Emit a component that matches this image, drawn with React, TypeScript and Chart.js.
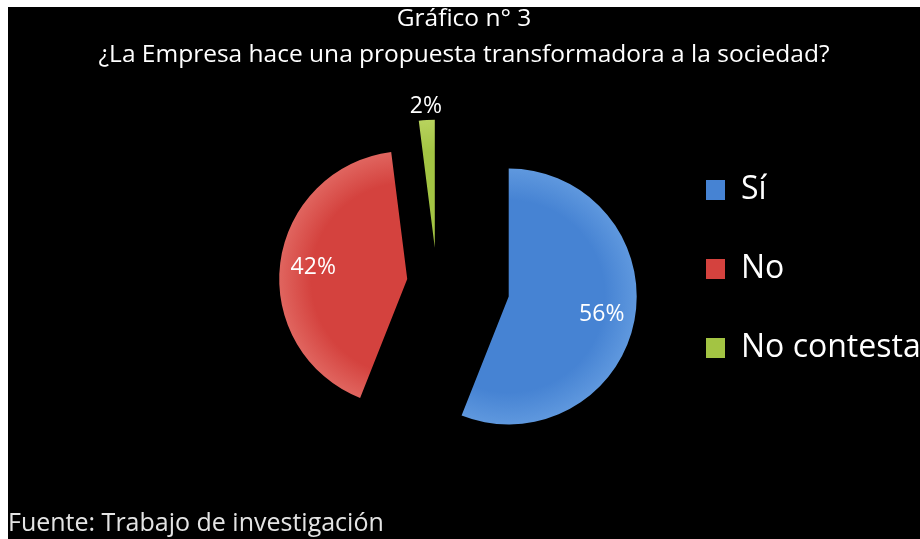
import React, { useEffect, useRef } from 'react';
import { Chart, registerables, layouts } from 'chart.js';

Chart.register(...registerables);

// ---- data ----
const CATEGORIES = ['Sí', 'No', 'No contesta'];
const VALUES = [56, 42, 2];
const COLORS = ['#4683D3', '#D4423E', '#A3C443'];
const RIM_COLORS = ['#5F98DE', '#E0655F', '#B8D35E'];
// Chart.js arc offset (the drawn shift is offset / 4)
const OFFSETS = [292, 120, 140];
const TITLE_LINES = ['Gráfico n° 3', '¿La Empresa hace una propuesta transformadora a la sociedad?'];
const SOURCE = 'Fuente: Trabajo de investigación';

// ---- layout / style ----
const W = 912;
const H = 532;
const PIE_RADIUS = 128;
const LEFT_SPACER = 207;
const FONT = "'Open Sans', sans-serif";

const leftSpacer = {
  id: 'leftSpacer',
  beforeInit(chart: any) {
    const box: any = {
      position: 'left',
      weight: 0,
      fullSize: false,
      options: {},
      width: 0, height: 0, left: 0, top: 0, right: 0, bottom: 0,
      isHorizontal() { return false; },
      update(_maxWidth: number, maxHeight: number) {
        this.width = LEFT_SPACER;
        this.height = maxHeight;
      },
      draw() {},
    };
    layouts.addBox(chart, box);
  },
};

// Chart.js grows the radius and narrows the angle of offset arcs;
// undo that so every exploded slice keeps the same radius and its true angle.
const explodeFix = {
  id: 'explodeFix',
  afterDatasetUpdate(_chart: any, args: any) {
    args.meta.data.forEach((arc: any, i: number) => {
      const shift = ((arc.options && arc.options.offset) ?? OFFSETS[i]) / 4;
      const fix = 1 - Math.sin(Math.min(Math.PI, arc.circumference || 0));
      const o = shift * fix;
      arc.outerRadius = PIE_RADIUS - o;
      const widen = o / (2 * Math.PI * PIE_RADIUS);
      arc.startAngle -= widen;
      arc.endAngle += widen;
    });
  },
};

const sliceLabels = {
  id: 'sliceLabels',
  afterDatasetsDraw(chart: any) {
    const ctx = chart.ctx;
    const meta = chart.getDatasetMeta(0);
    const total = VALUES.reduce((a, b) => a + b, 0);
    ctx.save();
    ctx.font = `23px ${FONT}`;
    ctx.fillStyle = '#ffffff';
    ctx.textAlign = 'center';
    ctx.textBaseline = 'middle';
    meta.data.forEach((arc: any, i: number) => {
      const mid = (arc.startAngle + arc.endAngle) / 2;
      const shift = ((arc.options && arc.options.offset) ?? OFFSETS[i]) / 4;
      const ax = arc.x + Math.cos(mid) * shift;
      const ay = arc.y + Math.sin(mid) * shift;
      const share = VALUES[i] / total;
      const r = share < 0.05 ? PIE_RADIUS + 14 : PIE_RADIUS * 0.74;
      ctx.fillText(Math.round(share * 100) + '%', ax + Math.cos(mid) * r, ay + Math.sin(mid) * r);
    });
    ctx.restore();
  },
};

// soft bevel: slightly lighter towards the outer edge of each slice
function sliceFill(c: any) {
  const i = c.dataIndex ?? 0;
  const chart = c.chart;
  const area = chart && chart.chartArea;
  if (!area) return COLORS[i];
  const cx = (area.left + area.right) / 2;
  const cy = (area.top + area.bottom) / 2;
  const g = chart.ctx.createRadialGradient(cx, cy, 0, cx, cy, PIE_RADIUS);
  g.addColorStop(0, COLORS[i]);
  g.addColorStop(0.75, COLORS[i]);
  g.addColorStop(1, RIM_COLORS[i]);
  return g;
}

export default function App() {
  const canvasRef = useRef<HTMLCanvasElement | null>(null);

  useEffect(() => {
    const canvas = canvasRef.current;
    if (!canvas) return;
    const defaultLabels = (Chart as any).overrides.pie.plugins.legend.labels.generateLabels;
    const chart = new Chart(canvas, {
      type: 'pie',
      data: {
        labels: CATEGORIES,
        datasets: [
          {
            data: VALUES,
            backgroundColor: sliceFill,
            borderWidth: 0,
            offset: OFFSETS,
            radius: PIE_RADIUS,
            clip: false,
          } as any,
        ],
      },
      options: {
        responsive: false,
        animation: false,
        devicePixelRatio: 1,
        layout: { padding: { top: -8, left: 0, right: 0, bottom: 0 } },
        plugins: {
          title: {
            display: true,
            text: TITLE_LINES,
            color: '#ffffff',
            font: { family: FONT, size: 24.5, weight: 'normal', lineHeight: 1.48 },
            padding: { top: 2, bottom: 0 },
          },
          subtitle: {
            display: true,
            position: 'bottom',
            align: 'start',
            text: SOURCE,
            color: '#e4e4e4',
            font: { family: FONT, size: 25, weight: 'normal', lineHeight: 1.2 },
            padding: { top: 17, bottom: 0 },
          },
          legend: {
            display: true,
            position: 'right',
            align: 'center',
            maxWidth: 261,
            labels: {
              color: '#ffffff',
              boxWidth: 19,
              boxHeight: 20,
              padding: 47,
              font: { family: FONT, size: 32 },
              generateLabels(ch: any) {
                return defaultLabels(ch).map((item: any, i: number) => ({
                  ...item,
                  fillStyle: COLORS[i],
                  strokeStyle: COLORS[i],
                  lineWidth: 0,
                }));
              },
            },
          },
          tooltip: { enabled: false },
        },
      } as any,
      plugins: [leftSpacer, explodeFix, sliceLabels],
    });
    return () => chart.destroy();
  }, []);

  return (
    <div
      style={{
        position: 'fixed',
        left: 8,
        top: 7,
        width: W,
        height: H,
        background: '#000000',
      }}
    >
      <canvas ref={canvasRef} width={W} height={H} style={{ display: 'block' }} />
    </div>
  );
}
